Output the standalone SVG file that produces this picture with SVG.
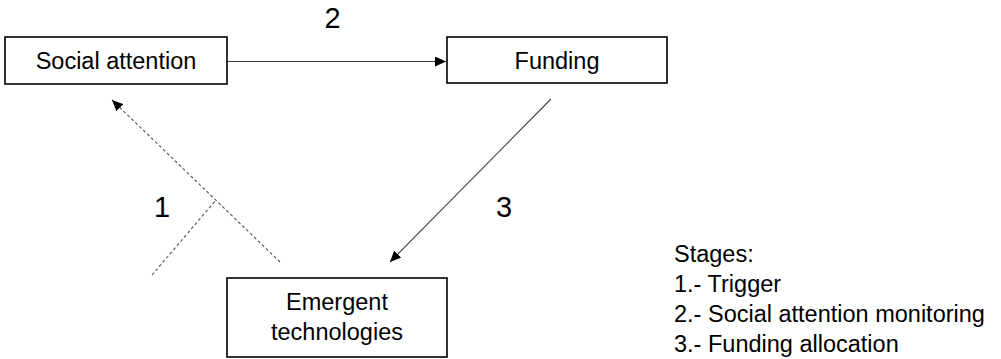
<svg xmlns="http://www.w3.org/2000/svg" width="1001" height="359" viewBox="0 0 1001 359">
<style>
.box{fill:#fff;stroke:#000;stroke-width:1.6}
.t{font-family:"Liberation Sans",Arial,sans-serif;font-size:23.5px;fill:#000}
.num{font-family:"Liberation Sans",Arial,sans-serif;font-size:29px;fill:#000;text-anchor:middle}
.solid{stroke:#404040;stroke-width:1.1;fill:none}
.dash{stroke:#505050;stroke-width:1.1;fill:none;stroke-dasharray:3 2.5}
</style>
<defs>
<marker id="ah" markerUnits="userSpaceOnUse" markerWidth="12" markerHeight="10" refX="11" refY="5" orient="auto">
<path d="M0,0 L11,5 L0,10 Z" fill="#000"/>
</marker>
</defs>
<rect width="1001" height="359" fill="#fff"/>
<g id="connectors">
<line class="solid" x1="227" y1="61.5" x2="446" y2="61.5" marker-end="url(#ah)"/>
<line class="solid" x1="551" y1="99" x2="390" y2="262" marker-end="url(#ah)"/>
<line class="dash" x1="280" y1="262" x2="112" y2="100" marker-end="url(#ah)"/>
<line class="dash" x1="152" y1="275" x2="216" y2="200"/>
</g>
<g id="node-social">
<rect class="box" x="5" y="37" width="222" height="47"/>
<text class="t" x="116" y="69.3" text-anchor="middle">Social attention</text>
</g>
<g id="node-funding">
<rect class="box" x="447" y="37" width="220" height="46"/>
<text class="t" x="557" y="69" text-anchor="middle">Funding</text>
</g>
<g id="node-emergent">
<rect class="box" x="227" y="278" width="220" height="79"/>
<text class="t" x="337" y="310" text-anchor="middle">Emergent</text>
<text class="t" x="337" y="340" text-anchor="middle">technologies</text>
</g>
<g id="labels">
<text class="num" x="332.5" y="28">2</text>
<text class="num" x="162" y="217">1</text>
<text class="num" x="504" y="217">3</text>
</g>
<g id="legend">
<text class="t" x="674" y="261.7">Stages:</text>
<text class="t" x="674" y="291.7">1.- Trigger</text>
<text class="t" x="674" y="321.7">2.- Social attention monitoring</text>
<text class="t" x="674" y="351.7">3.- Funding allocation</text>
</g>
</svg>
